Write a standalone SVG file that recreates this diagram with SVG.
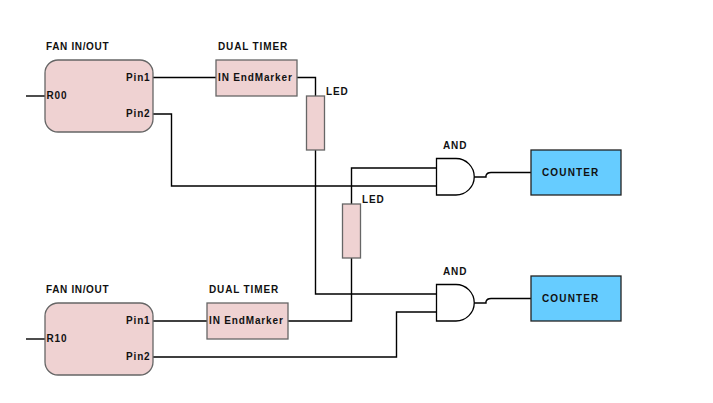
<svg xmlns="http://www.w3.org/2000/svg" width="713" height="403" viewBox="0 0 713 403">
<style>
text{font-family:"Liberation Sans",Arial,sans-serif;font-size:10px;font-weight:bold;fill:#111;letter-spacing:.85px}
text.n{letter-spacing:1.15px}
text.f{letter-spacing:.65px}
.w{fill:none;stroke:#000;stroke-width:1.4}
.p{fill:#efd2d2;stroke:#666;stroke-width:1.3}
.c{fill:#66ccff;stroke:#222;stroke-width:1.3}
.g{fill:#fff;stroke:#000;stroke-width:1.3}
</style>
<rect width="713" height="403" fill="#fff"/>
<g id="connectors">
<path class="w" d="M26 96H46"/>
<path class="w" d="M153 77.500H216"/>
<path class="w" d="M153 114H171.500V186H437"/>
<path class="w" d="M297 77.500H315.500V96"/>
<path class="w" d="M315.500 150V294H437"/>
<path class="w" d="M437 168H351.500V204"/>
<path class="w" d="M351.500 258V321H288"/>
<path class="w" d="M26 339H46"/>
<path class="w" d="M153 321H208"/>
<path class="w" d="M153 357H396.500V312H437"/>
<path class="w" d="M474 177H486V175.500Q487 172.500 491 172.500H531"/>
<path class="w" d="M474 303H486V301.500Q487 298.500 491 298.500H531"/>
</g>
<g id="fan1"><rect class="p" x="45" y="60" width="108" height="72" rx="13"/><text class="f" x="46" y="50">FAN IN/OUT</text><text x="46.500" y="99">R00</text><text x="126" y="81">Pin1</text><text x="126" y="117">Pin2</text></g>
<g id="timer1"><rect class="p" x="216" y="60" width="81" height="36"/><text x="218" y="50">DUAL TIMER</text><text x="218" y="81">IN EndMarker</text></g>
<g id="led1"><rect class="p" x="306.500" y="96" width="18" height="54"/><text x="326" y="95">LED</text></g>
<g id="led2"><rect class="p" x="342.500" y="204" width="18" height="54"/><text x="362" y="203">LED</text></g>
<g id="and1"><path class="g" d="M436.500 158.500H456A18.250 18.250 0 0 1 456 195H436.500Z"/><text x="443" y="149">AND</text></g>
<g id="and2"><path class="g" d="M436.500 284.500H456A18.250 18.250 0 0 1 456 321H436.500Z"/><text x="443" y="275">AND</text></g>
<g id="counter1"><rect class="c" x="531" y="150" width="90" height="45"/><text class="n" x="542" y="176">COUNTER</text></g>
<g id="counter2"><rect class="c" x="531" y="276" width="90" height="45"/><text class="n" x="542" y="302">COUNTER</text></g>
<g id="fan2"><rect class="p" x="45" y="303" width="108" height="72" rx="13"/><text class="f" x="46" y="293">FAN IN/OUT</text><text x="46.500" y="342">R10</text><text x="126" y="324">Pin1</text><text x="126" y="360">Pin2</text></g>
<g id="timer2"><rect class="p" x="207" y="303" width="81" height="36"/><text x="209" y="293">DUAL TIMER</text><text x="209" y="324">IN EndMarker</text></g>
</svg>
